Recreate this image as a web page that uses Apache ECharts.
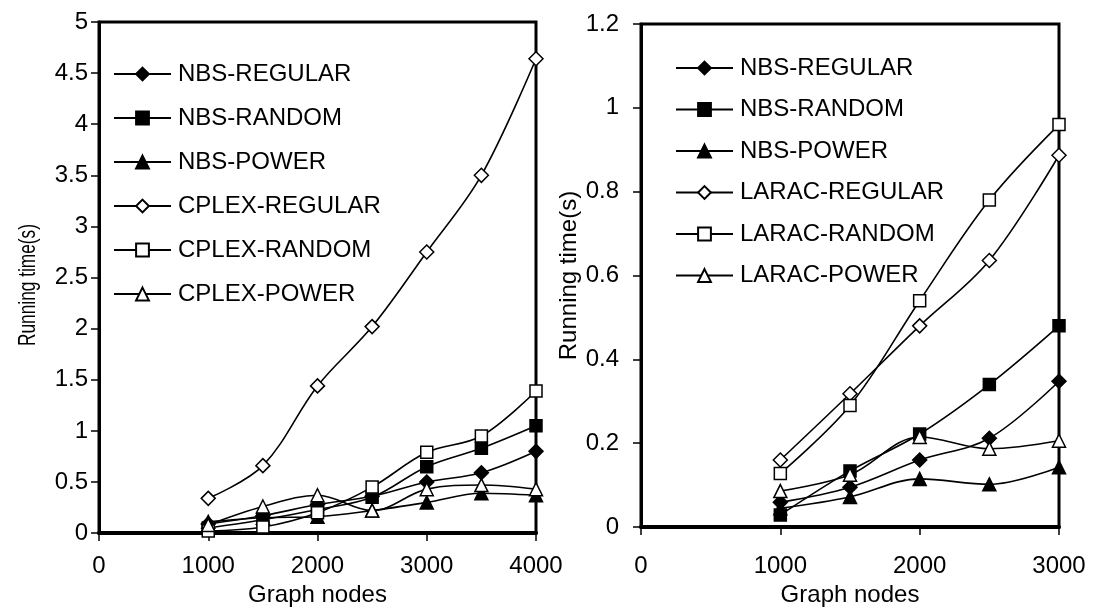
<!DOCTYPE html>
<html>
<head>
<meta charset="utf-8">
<script src="https://cdn.jsdelivr.net/npm/echarts@6/dist/echarts.min.js"></script>
<style>
html,body{margin:0;padding:0;background:#fff;}
#chart{width:1104px;height:612px;}
</style>
</head>
<body>
<div id="chart"></div>
<script>
// ---- Left panel data (NBS vs CPLEX) ----
const leftNodes = [1000, 1500, 2000, 2500, 3000, 3500, 4000];
const leftNames = ['NBS-REGULAR', 'NBS-RANDOM', 'NBS-POWER', 'CPLEX-REGULAR', 'CPLEX-RANDOM', 'CPLEX-POWER'];
const leftNbsRegular   = [0.09, 0.17, 0.28, 0.36, 0.50, 0.59, 0.80];
const leftNbsRandom    = [0.05, 0.13, 0.23, 0.35, 0.65, 0.83, 1.05];
const leftNbsPower     = [0.11, 0.15, 0.16, 0.22, 0.30, 0.39, 0.37];
const leftCplexRegular = [0.34, 0.66, 1.44, 2.02, 2.75, 3.50, 4.64];
const leftCplexRandom  = [0.02, 0.06, 0.20, 0.45, 0.79, 0.95, 1.39];
const leftCplexPower   = [0.08, 0.26, 0.37, 0.22, 0.43, 0.47, 0.43];
const leftXTicks = [0, 1000, 2000, 3000, 4000];
const leftYTicks = [0, 0.5, 1, 1.5, 2, 2.5, 3, 3.5, 4, 4.5, 5];

// ---- Right panel data (NBS vs LARAC) ----
const rightNodes = [1000, 1500, 2000, 2500, 3000];
const rightNames = ['NBS-REGULAR', 'NBS-RANDOM', 'NBS-POWER', 'LARAC-REGULAR', 'LARAC-RANDOM', 'LARAC-POWER'];
const rightNbsRegular   = [0.059, 0.095, 0.160, 0.212, 0.348];
const rightNbsRandom    = [0.029, 0.134, 0.222, 0.340, 0.480];
const rightNbsPower     = [0.045, 0.072, 0.115, 0.102, 0.143];
const rightLaracRegular = [0.160, 0.318, 0.480, 0.636, 0.887];
const rightLaracRandom  = [0.128, 0.290, 0.540, 0.780, 0.960];
const rightLaracPower   = [0.086, 0.125, 0.215, 0.187, 0.206];
const rightXTicks = [0, 1000, 2000, 3000];
const rightYTicks = [0, 0.2, 0.4, 0.6, 0.8, 1, 1.2];

const xTitle = 'Graph nodes';
const yTitle = 'Running time(s)';

const FONT = "'Liberation Sans', Arial, sans-serif";
const markerStyles = [
  {symbol: 'diamond',  size: 14, fill: '#000'},
  {symbol: 'rect',     size: 12, fill: '#000'},
  {symbol: 'triangle', size: 13, fill: '#000'},
  {symbol: 'diamond',  size: 14, fill: '#fff'},
  {symbol: 'rect',     size: 12, fill: '#fff'},
  {symbol: 'triangle', size: 13, fill: '#fff'}
];

function pairs(xs, ys) { return xs.map((x, i) => [x, ys[i]]); }

function makeSeries(names, xs, valueLists, axisIndex) {
  return names.map((name, i) => ({
    name: name,
    type: 'line',
    xAxisIndex: axisIndex,
    yAxisIndex: axisIndex,
    smooth: 0.35,
    data: pairs(xs, valueLists[i]),
    symbol: markerStyles[i].symbol,
    symbolSize: markerStyles[i].size,
    lineStyle: {color: '#000', width: 1.6},
    itemStyle: {color: markerStyles[i].fill, borderColor: '#000', borderWidth: 1.5},
    emphasis: {disabled: true},
    animation: false
  }));
}

function xAxisCfg(ticks, gridIndex, labelMargin, nameGap) {
  return {
    type: 'value', gridIndex: gridIndex,
    min: ticks[0], max: ticks[ticks.length - 1], interval: ticks[1] - ticks[0],
    name: xTitle, nameLocation: 'middle', nameGap: nameGap,
    nameTextStyle: {fontFamily: FONT, fontSize: 24, color: '#000'},
    axisLine: {show: true, lineStyle: {color: '#000', width: 4}},
    axisTick: {show: true, length: 8, lineStyle: {color: '#000', width: 1.5}},
    axisLabel: {fontFamily: FONT, fontSize: 24, color: '#000', margin: labelMargin,
                formatter: v => String(v)},
    splitLine: {show: false}
  };
}

function yAxisCfg(ticks, gridIndex, labelMargin, name, nameGap) {
  return {
    type: 'value', gridIndex: gridIndex,
    min: ticks[0], max: ticks[ticks.length - 1], interval: ticks[1] - ticks[0],
    name: name, nameLocation: 'middle', nameGap: nameGap,
    nameTextStyle: {fontFamily: FONT, fontSize: 24, color: '#000'},
    axisLine: {show: true, lineStyle: {color: '#000', width: 3}},
    axisTick: {show: true, length: 8, lineStyle: {color: '#000', width: 1.5}},
    axisLabel: {fontFamily: FONT, fontSize: 24, color: '#000', margin: labelMargin,
                formatter: v => String(v)},
    splitLine: {show: false}
  };
}

const option = {
  backgroundColor: '#fff',
  animation: false,
  grid: [
    {left: 99, top: 22, width: 437, height: 520, show: true, borderColor: '#000', borderWidth: 3, containLabel: false},
    {left: 641, top: 24, width: 418, height: 519, show: true, borderColor: '#000', borderWidth: 3, containLabel: false}
  ],
  xAxis: [
    xAxisCfg(leftXTicks, 0, 21, 47),
    xAxisCfg(rightXTicks, 1, 27, 50)
  ],
  yAxis: [
    yAxisCfg(leftYTicks, 0, 11, '', 56),
    yAxisCfg(rightYTicks, 1, 22, yTitle, 56)
  ],
  // left panel's axis title is printed condensed in the original figure
  graphic: [{
    type: 'text',
    x: 28, y: 285,
    rotation: Math.PI / 2,
    scaleX: 0.72,
    style: {
      text: yTitle,
      fontFamily: FONT, fontSize: 24, fill: '#000',
      align: 'center', verticalAlign: 'middle'
    },
    silent: true
  }],
  legend: [
    {
      data: leftNames, orient: 'vertical', left: 113, top: 62, padding: 0,
      itemWidth: 57, itemHeight: 16, itemGap: 20, align: 'left',
      textStyle: {fontFamily: FONT, fontSize: 24, color: '#000', padding: [0, 0, 0, 2]},
      selectedMode: false
    },
    {
      data: rightNames, orient: 'vertical', left: 675, top: 56, padding: 0,
      itemWidth: 57, itemHeight: 16, itemGap: 17.5, align: 'left',
      textStyle: {fontFamily: FONT, fontSize: 24, color: '#000', padding: [0, 0, 0, 2]},
      selectedMode: false
    }
  ],
  series: [].concat(
    makeSeries(leftNames, leftNodes,
      [leftNbsRegular, leftNbsRandom, leftNbsPower, leftCplexRegular, leftCplexRandom, leftCplexPower], 0),
    makeSeries(rightNames, rightNodes,
      [rightNbsRegular, rightNbsRandom, rightNbsPower, rightLaracRegular, rightLaracRandom, rightLaracPower], 1)
  )
};

const chart = echarts.init(document.getElementById('chart'), null, {renderer: 'canvas'});
chart.setOption(option);
</script>
</body>
</html>
